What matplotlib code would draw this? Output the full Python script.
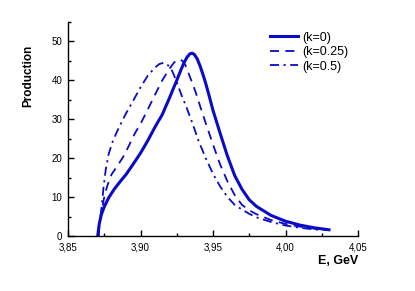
import matplotlib
matplotlib.use("Agg")
import matplotlib.pyplot as plt
from matplotlib.ticker import MultipleLocator, FuncFormatter

plt.rcParams["font.family"] = ["Liberation Sans", "DejaVu Sans"]

# curves (E in GeV, production)
e_k0 = [3.8705, 3.8715, 3.873, 3.875, 3.878, 3.882, 3.886, 3.890, 3.895, 3.900,
        3.905, 3.910, 3.915, 3.920, 3.925, 3.928, 3.930, 3.932, 3.934, 3.9355,
        3.937, 3.939, 3.941, 3.943, 3.945, 3.9475, 3.950, 3.955, 3.960, 3.965,
        3.970, 3.975, 3.980, 3.990, 4.000, 4.010, 4.020, 4.030]
p_k0 = [0, 3, 5.5, 7.5, 9.8, 12.1, 14.0, 15.8, 18.5, 21.3,
        24.5, 28.0, 31.2, 35.5, 40.0, 42.8, 44.5, 45.9, 46.8, 47.0,
        46.7, 45.6, 43.8, 41.6, 39.2, 35.8, 32.3, 26.3, 20.5, 15.5,
        12.0, 9.3, 7.6, 5.3, 3.8, 2.8, 2.1, 1.6]

e_k025 = [3.871, 3.872, 3.8735, 3.875, 3.877, 3.880, 3.884, 3.888, 3.892, 3.896,
          3.900, 3.905, 3.910, 3.915, 3.920, 3.923, 3.925, 3.927, 3.929, 3.931,
          3.934, 3.938, 3.941, 3.945, 3.950, 3.955, 3.960, 3.965, 3.970, 3.975,
          3.980, 3.990, 4.000, 4.010, 4.020, 4.028]
p_k025 = [0, 4, 7, 10, 12.8, 15.8, 18.0, 20.3, 23.2, 26.3,
          28.8, 32.5, 36.3, 40.0, 43.0, 44.5, 45.2, 45.4, 45.0, 43.9,
          41.0, 37.0, 33.5, 29.0, 23.5, 18.3, 14.0, 10.5, 8.0, 6.6,
          5.6, 4.1, 3.1, 2.4, 1.9, 1.5]

e_k05 = [3.871, 3.872, 3.8732, 3.8745, 3.876, 3.878, 3.881, 3.885, 3.890, 3.895,
         3.900, 3.905, 3.910, 3.913, 3.9157, 3.918, 3.920, 3.922, 3.924, 3.928,
         3.932, 3.936, 3.940, 3.945, 3.950, 3.955, 3.960, 3.965, 3.970, 3.975,
         3.980, 3.990, 4.000, 4.010, 4.020, 4.026]
p_k05 = [0, 4, 7.5, 12.5, 17.0, 21.0, 24.5, 27.8, 31.5, 34.8,
         38.2, 41.2, 43.3, 44.2, 44.5, 44.2, 43.5, 42.3, 40.5, 36.5,
         32.8, 28.8, 24.5, 20.0, 16.0, 12.7, 10.0, 8.0, 6.8, 5.7,
         4.8, 3.6, 2.7, 2.1, 1.7, 1.5]

labels = ["(k=0)", "(k=0.25)", "(k=0.5)"]
blue = "#0a0ac8"

fig = plt.figure(figsize=(4.15, 2.91), dpi=100)
ax = fig.add_axes([68 / 415, 1 - 236 / 291, 290 / 415, 214 / 291])

ax.plot(e_k0, p_k0, color=blue, lw=2.2, ls="-", label=labels[0])
ax.plot(e_k025, p_k025, color=blue, lw=1.3, ls=(0, (5, 3.5)), label=labels[1])
ax.plot(e_k05, p_k05, color=blue, lw=1.3, ls=(0, (5, 2.5, 1.2, 2.5)), label=labels[2])

ax.set_xlim(3.85, 4.05)
ax.set_ylim(0, 55)
ax.xaxis.set_major_locator(MultipleLocator(0.05))
ax.xaxis.set_minor_locator(MultipleLocator(0.025))
ax.yaxis.set_major_locator(MultipleLocator(10))
ax.yaxis.set_minor_locator(MultipleLocator(5))
ax.xaxis.set_major_formatter(FuncFormatter(lambda v, p: f"{v:.2f}".replace(".", ",")))
ax.yaxis.set_major_formatter(FuncFormatter(lambda v, p: f"{v:.0f}"))

for side in ("top", "right"):
    ax.spines[side].set_visible(False)
for side in ("left", "bottom"):
    ax.spines[side].set_linewidth(1.0)
ax.tick_params(which="major", direction="in", length=4, width=1, labelsize=7)
ax.tick_params(axis="x", which="major", pad=5)
ax.tick_params(axis="y", which="major", pad=4)
ax.tick_params(which="minor", direction="in", length=2.5, width=1)

ax.set_xlabel("E, GeV", fontsize=9, fontweight="bold", ha="right", va="top")
ax.xaxis.set_label_coords(1.0, -0.09)
ax.set_ylabel("Production", fontsize=8.5, fontweight="bold", va="bottom")
ax.yaxis.set_label_coords(-0.115, 0.75)

ax.legend(loc="upper left", bbox_to_anchor=(0.697, 0.955), frameon=False,
          fontsize=9, handlelength=2.25, handletextpad=0.3, labelspacing=0.2,
          borderaxespad=0, borderpad=0)

fig.savefig("out.png", dpi=100)
